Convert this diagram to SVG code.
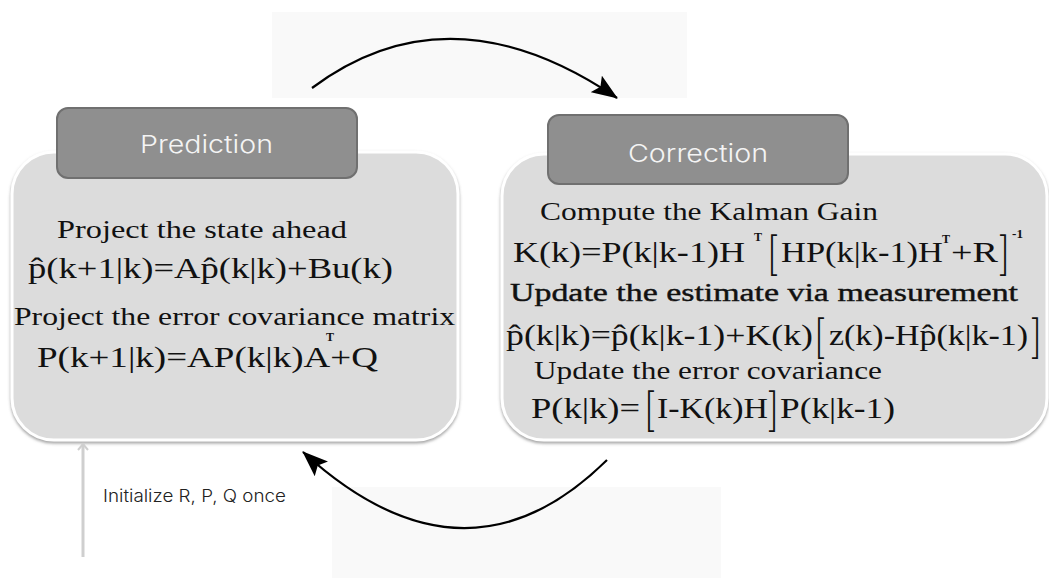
<svg xmlns="http://www.w3.org/2000/svg" width="1049" height="578" viewBox="0 0 1049 578">
<style>
.panel{fill:#dcdcdc;stroke:#ffffff;stroke-width:3;filter:url(#sh)}
.hdr{fill:#8f8f8f;stroke:#707070;stroke-width:2}
.hdrt{font-family:Inter,"Liberation Sans",sans-serif;font-weight:300;font-size:24px;fill:#f4f4f4}
.t{font-family:"Liberation Serif",serif;font-size:25px;fill:#111}
.sb{stroke:#111;stroke-width:0.4}
.f{font-family:"Liberation Serif",serif;font-size:29px;fill:#111}
.b{font-family:Inter,"Liberation Sans",sans-serif;font-weight:200;font-size:46px;fill:#111}
.sup{font-family:"Liberation Serif",serif;font-size:12px;font-weight:bold;fill:#111}
.note{font-family:Inter,"Liberation Sans",sans-serif;font-weight:300;font-size:17px;fill:#222}
.arc{fill:none;stroke:#000;stroke-width:2.2}
</style>
<defs>
<filter id="sh" x="-5%" y="-5%" width="110%" height="115%">
<feDropShadow dx="0" dy="2" stdDeviation="1.5" flood-color="#9a9a9a" flood-opacity="0.9"/>
</filter>
<marker id="big" viewBox="0 0 26 20" refX="25" refY="10" markerWidth="26" markerHeight="20" markerUnits="userSpaceOnUse" orient="auto">
<path d="M0,0 L26,10 L0,20 L5,10 z" fill="#000"/>
</marker>
<marker id="ga" viewBox="0 0 12 12" refX="10" refY="6" markerWidth="12" markerHeight="12" markerUnits="userSpaceOnUse" orient="auto">
<path d="M4,1 L10,6 L4,11" fill="none" stroke="#cfcfcf" stroke-width="2"/>
</marker>
</defs>
<rect width="1049" height="578" fill="#ffffff"/>
<rect x="272" y="12" width="415" height="86" fill="#f9f9f9"/>
<rect x="332" y="487" width="389" height="91" fill="#f9f9f9"/>

<g id="prediction">
<rect class="panel" x="12" y="152" width="446" height="288" rx="42"/>
<rect class="hdr" x="57" y="108" width="300" height="70" rx="11"/>
<text class="hdrt" x="140" y="153" textLength="133" lengthAdjust="spacingAndGlyphs">Prediction</text>
<text class="t" x="57" y="238" textLength="290" lengthAdjust="spacingAndGlyphs">Project the state ahead</text>
<text class="f" x="28" y="278" textLength="365" lengthAdjust="spacingAndGlyphs">p̂(k+1|k)=Ap̂(k|k)+Bu(k)</text>
<text class="t" x="14" y="325" textLength="441" lengthAdjust="spacingAndGlyphs">Project the error covariance matrix</text>
<text class="f" x="37" y="367" textLength="341" lengthAdjust="spacingAndGlyphs">P(k+1|k)=AP(k|k)A+Q</text>
<text class="sup" x="326" y="341">T</text>
</g>

<g id="correction">
<rect class="panel" x="502" y="154" width="545" height="286" rx="42"/>
<rect class="hdr" x="548" y="115" width="300" height="69" rx="11"/>
<text class="hdrt" x="628" y="162" textLength="140" lengthAdjust="spacingAndGlyphs">Correction</text>
<text class="t" x="540" y="220" textLength="338" lengthAdjust="spacingAndGlyphs">Compute the Kalman Gain</text>
<text class="f" x="513" y="262" textLength="232" lengthAdjust="spacingAndGlyphs">K(k)=P(k|k-1)H</text>
<text class="sup" x="754" y="241">T</text>
<text class="b" x="766" y="270" textLength="14" lengthAdjust="spacingAndGlyphs">[</text>
<text class="f" x="781" y="262" textLength="162" lengthAdjust="spacingAndGlyphs">HP(k|k-1)H</text>
<text class="sup" x="942" y="243">T</text>
<text class="f" x="951" y="262" textLength="47" lengthAdjust="spacingAndGlyphs">+R</text>
<text class="b" x="997" y="270" textLength="14" lengthAdjust="spacingAndGlyphs">]</text>
<text class="sup" x="1012" y="238" textLength="11" lengthAdjust="spacingAndGlyphs">-1</text>
<text class="t sb" x="510" y="301" textLength="508" lengthAdjust="spacingAndGlyphs">Update the estimate via measurement</text>
<text class="f" x="506" y="345" textLength="307" lengthAdjust="spacingAndGlyphs">p̂(k|k)=p̂(k|k-1)+K(k)</text>
<text class="b" x="813" y="353" textLength="14" lengthAdjust="spacingAndGlyphs">[</text>
<text class="f" x="829" y="345" textLength="199" lengthAdjust="spacingAndGlyphs">z(k)-Hp̂(k|k-1)</text>
<text class="b" x="1029" y="353" textLength="14" lengthAdjust="spacingAndGlyphs">]</text>
<text class="t" x="534" y="379" textLength="348" lengthAdjust="spacingAndGlyphs">Update the error covariance</text>
<text class="f" x="531" y="418" textLength="109" lengthAdjust="spacingAndGlyphs">P(k|k)=</text>
<text class="b" x="643" y="426" textLength="14" lengthAdjust="spacingAndGlyphs">[</text>
<text class="f" x="657" y="418" textLength="111" lengthAdjust="spacingAndGlyphs">I-K(k)H</text>
<text class="b" x="766" y="426" textLength="14" lengthAdjust="spacingAndGlyphs">]</text>
<text class="f" x="780" y="418" textLength="115" lengthAdjust="spacingAndGlyphs">P(k|k-1)</text>
</g>

<g id="init">
<text class="note" x="103" y="502" textLength="183" lengthAdjust="spacingAndGlyphs">Initialize R, P, Q once</text>
</g>

<g id="connectors">
<path class="arc" d="M312,88 Q450,-15 617,98" marker-end="url(#big)"/>
<path class="arc" d="M607,460 Q465,600 303,452" marker-end="url(#big)"/>
<path d="M83,557 L83,444" fill="none" stroke="#cfcfcf" stroke-width="3" marker-end="url(#ga)"/>
</g>
</svg>
